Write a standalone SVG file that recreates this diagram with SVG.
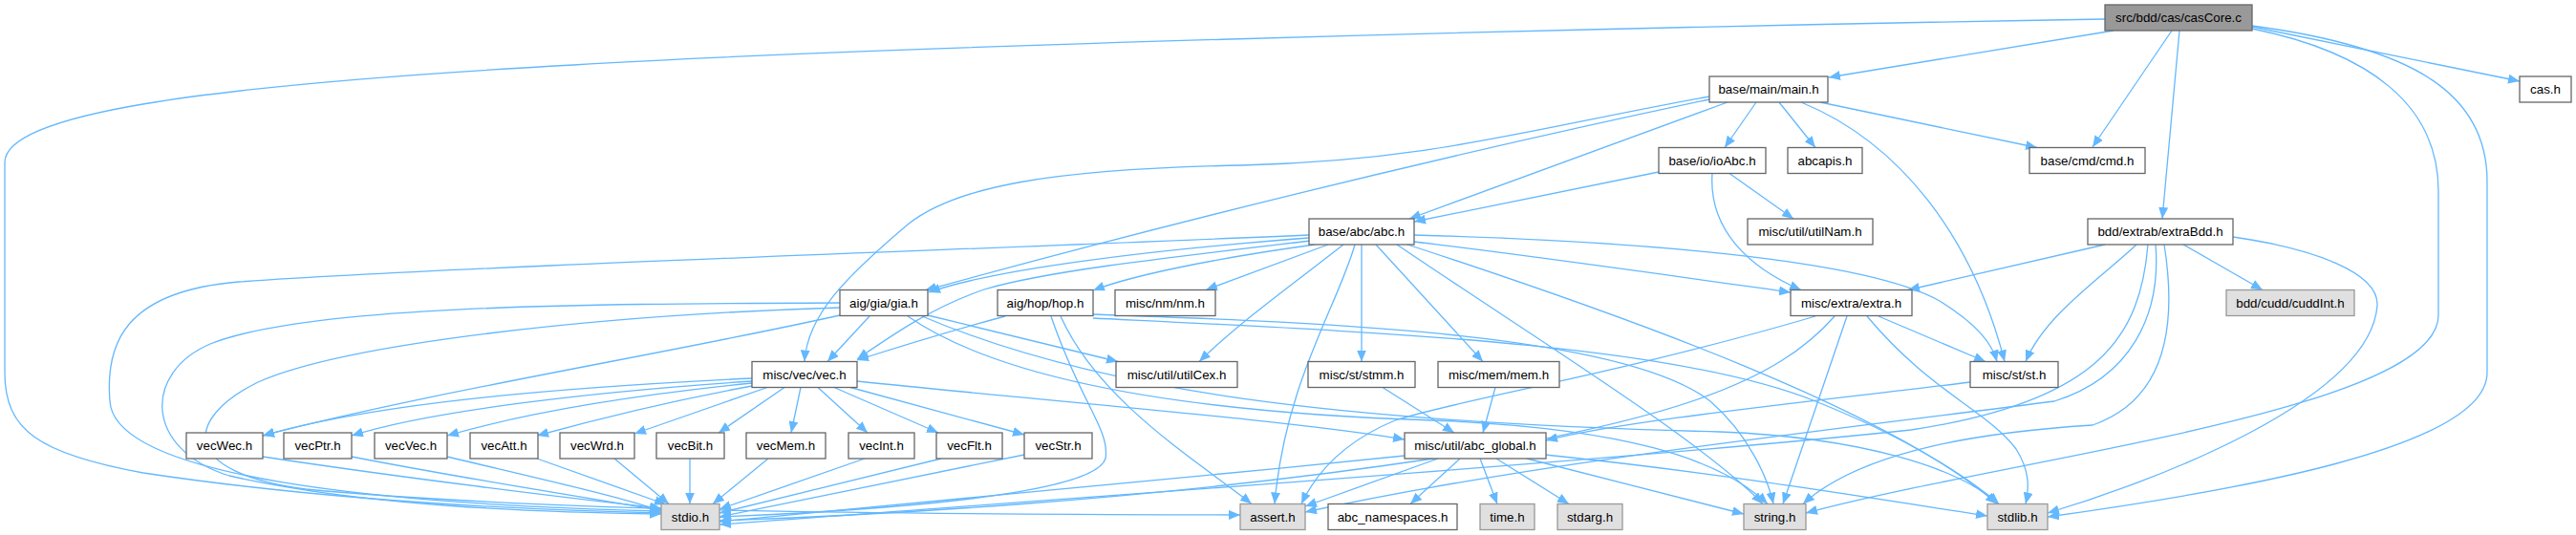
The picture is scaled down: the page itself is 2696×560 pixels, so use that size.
<svg xmlns="http://www.w3.org/2000/svg" width="2696" height="560" viewBox="0 0 2696 560">
<style>
.e{fill:none;stroke:#63b8ff;stroke-width:1.3;marker-end:url(#a)}
.n rect{fill:#fff;stroke:#666;stroke-width:1.3}
.g rect{fill:#e0e0e0;stroke:#999;stroke-width:1.3}
.m rect{fill:#999;stroke:#666;stroke-width:1.3}
text{font-family:"Liberation Sans",Arial,sans-serif;font-size:13.33px;fill:#000;text-anchor:middle}
</style>
<defs>
<marker id="a" viewBox="0 0 12 10" refX="12" refY="5" markerWidth="12" markerHeight="10" markerUnits="userSpaceOnUse" orient="auto">
<path d="M0,0 L12,5 L0,10 z" fill="#63b8ff"/>
</marker>
</defs>
<rect width="2696" height="560" fill="#fff"/>
<g id="edges">
<path class="e" d="M2203,20 C1600,30 900,50 600,68 C200,90 5,120 5,170 L5,390 C5,450 40,475 150,495 C350,525 560,534 692,537"/>
<path class="e" d="M2212,32 L1914,81"/>
<path class="e" d="M2273,32 L2190,154"/>
<path class="e" d="M2281,32 L2263,229"/>
<path class="e" d="M2357,28 L2637,85"/>
<path class="e" d="M2357,30 C2480,55 2552,110 2552,200 L2552,330 C2552,430 2100,480 1890,537"/>
<path class="e" d="M2357,27 C2530,50 2603,100 2603,190 L2603,390 C2603,470 2330,515 2143,541"/>
<path class="e" d="M1808,107 L1475,229"/>
<path class="e" d="M1789,104 C1500,165 1200,240 968,304"/>
<path class="e" d="M1789,101 C1600,135 1500,168 1300,173 C1100,177 1000,195 950,235 C885,290 845,330 842,378.5"/>
<path class="e" d="M1838,107 L1805,154.5"/>
<path class="e" d="M1862,107 L1900,154.5"/>
<path class="e" d="M1905,107 L2132,154.5"/>
<path class="e" d="M1885,107 C1990,150 2065,250 2098,378.5"/>
<path class="e" d="M1736,180 L1480,232"/>
<path class="e" d="M1810,181.5 L1877,229"/>
<path class="e" d="M1792,181.5 C1788,240 1830,280 1885,303.5"/>
<path class="e" d="M1370,246 C1000,262 500,278 250,295 C130,305 110,360 115,420 C120,500 400,528 692,535"/>
<path class="e" d="M1370,249 C1200,262 1040,282 972,306"/>
<path class="e" d="M1376,256 C1260,272 1180,290 1144,304"/>
<path class="e" d="M1372,252 C1200,272 1090,285 1030,303 C975,322 935,350 897,376"/>
<path class="e" d="M1390,256 L1262,303.5"/>
<path class="e" d="M1406,256 C1350,300 1300,335 1255,378.5"/>
<path class="e" d="M1418,256 C1400,320 1345,400 1334,527.5"/>
<path class="e" d="M1425,256 L1425,378.5"/>
<path class="e" d="M1440,256 L1552,378.5"/>
<path class="e" d="M1462,256 C1600,350 1780,460 1845,527.5"/>
<path class="e" d="M1470,255 C1700,330 1980,430 2090,527.5"/>
<path class="e" d="M1480,246 C1700,252 1950,270 2030,315 C2070,340 2085,360 2090,378.5"/>
<path class="e" d="M1480,253 C1620,270 1760,290 1874,306"/>
<path class="e" d="M910,331 L866,378.5"/>
<path class="e" d="M879,330 C700,370 450,410 275,456"/>
<path class="e" d="M879,317 C600,318 320,320 220,360 C150,390 150,470 240,498 C380,530 560,536 692,538"/>
<path class="e" d="M879,322 C620,330 360,360 270,400 C190,440 190,495 320,512 C600,538 1000,538 1298,539"/>
<path class="e" d="M971,330 L1170,378.5"/>
<path class="e" d="M950,331 C1050,400 1250,432 1500,440 C1700,448 1800,480 1850,527.5"/>
<path class="e" d="M965,331 C1150,410 1400,442 1800,452 C1950,458 2050,490 2092,527.5"/>
<path class="e" d="M1052,331 C1000,345 950,360 897,377"/>
<path class="e" d="M1110,331 C1150,420 1250,480 1310,527.5"/>
<path class="e" d="M1100,331 C1130,420 1162,450 1157,480 C1145,520 900,535 753,541"/>
<path class="e" d="M1144,329 C1400,338 1700,350 1790,420 C1830,455 1850,500 1856,527.5"/>
<path class="e" d="M1144,333 C1450,348 1750,360 1900,420 C2000,460 2060,500 2092,527.5"/>
<path class="e" d="M1966,331 L2078,378.5"/>
<path class="e" d="M1933,331 L1866,527.5"/>
<path class="e" d="M1954,331 C2020,410 2080,430 2110,470 C2124,492 2124,510 2120,527.5"/>
<path class="e" d="M1900,331 C1700,390 1520,420 1460,440 C1400,465 1375,500 1362,527.5"/>
<path class="e" d="M1920,331 C1860,400 1750,440 1500,480 C1200,525 900,540 753,545"/>
<path class="e" d="M2203,256 L1997,303.5"/>
<path class="e" d="M2285,256 L2368,303.5"/>
<path class="e" d="M2236,256 C2200,290 2140,330 2120,378.5"/>
<path class="e" d="M2337,248 C2420,260 2490,285 2488,320 C2480,420 2250,505 2143,537"/>
<path class="e" d="M2265,256 C2280,350 2262,420 2190,445 C2080,452 1950,470 1887,527.5"/>
<path class="e" d="M2256,256 C2262,330 2230,395 2150,420 C1900,452 1600,485 1366,536"/>
<path class="e" d="M2248,256 C2240,350 2200,420 2000,450 C1700,482 1000,530 753,549"/>
<path class="e" d="M787,396 C600,405 400,420 275,456"/>
<path class="e" d="M787,399 C620,410 450,430 368,456"/>
<path class="e" d="M787,401 C650,415 540,435 468,456"/>
<path class="e" d="M787,404 C700,420 620,440 562,456"/>
<path class="e" d="M803,405.5 L664,454"/>
<path class="e" d="M821,405.5 L752,453"/>
<path class="e" d="M838,405.5 L828,453"/>
<path class="e" d="M856,405.5 L908,453"/>
<path class="e" d="M873,405.5 L982,453"/>
<path class="e" d="M890,405.5 L1072,455"/>
<path class="e" d="M897,399 C1100,420 1350,440 1470,460"/>
<path class="e" d="M275,478 C420,500 600,522 692,532"/>
<path class="e" d="M368,478 C480,500 620,522 692,534"/>
<path class="e" d="M468,478 C560,500 650,520 692,535"/>
<path class="e" d="M562,480 L697,528"/>
<path class="e" d="M643,480 L700,527.5"/>
<path class="e" d="M722,480 L722,527.5"/>
<path class="e" d="M804,480 L746,527.5"/>
<path class="e" d="M905,480 L753,533"/>
<path class="e" d="M985,480 L753,537"/>
<path class="e" d="M1072,476 L753,541"/>
<path class="e" d="M1505,480 L1366,530"/>
<path class="e" d="M1528,480 L1476,527.5"/>
<path class="e" d="M1549,480 L1567,527.5"/>
<path class="e" d="M1566,480 L1642,527.5"/>
<path class="e" d="M1470,477 C1200,505 900,530 753,546"/>
<path class="e" d="M1598,480 L1825,538"/>
<path class="e" d="M1617,476 C1800,495 1950,520 2080,540"/>
<path class="e" d="M2062,400 C1900,420 1700,440 1618,461"/>
<path class="e" d="M1447,405.5 L1522,453"/>
<path class="e" d="M1565,405.5 L1552,453"/>
</g>
<g id="casCore" class="m"><rect x="2203" y="5" width="154" height="27"/><text x="2280" y="23.2">src/bdd/cas/casCore.c</text></g>
<g id="main_h" class="n"><rect x="1789" y="80" width="124" height="27"/><text x="1851" y="98.2">base/main/main.h</text></g>
<g id="cas_h" class="n"><rect x="2637" y="80" width="54" height="27"/><text x="2664" y="98.2">cas.h</text></g>
<g id="ioAbc_h" class="n"><rect x="1736" y="154.5" width="112" height="27"/><text x="1792" y="172.7">base/io/ioAbc.h</text></g>
<g id="abcapis_h" class="n"><rect x="1871" y="154.5" width="78" height="27"/><text x="1910" y="172.7">abcapis.h</text></g>
<g id="cmd_h" class="n"><rect x="2124" y="154.5" width="121" height="27"/><text x="2184.5" y="172.7">base/cmd/cmd.h</text></g>
<g id="abc_h" class="n"><rect x="1370" y="229" width="110" height="27"/><text x="1425" y="247.2">base/abc/abc.h</text></g>
<g id="utilNam_h" class="n"><rect x="1829" y="229" width="131" height="27"/><text x="1894.5" y="247.2">misc/util/utilNam.h</text></g>
<g id="extraBdd_h" class="n"><rect x="2185" y="229" width="152" height="27"/><text x="2261" y="247.2">bdd/extrab/extraBdd.h</text></g>
<g id="gia_h" class="n"><rect x="879" y="303.5" width="92" height="27"/><text x="925" y="321.7">aig/gia/gia.h</text></g>
<g id="hop_h" class="n"><rect x="1044" y="303.5" width="100" height="27"/><text x="1094" y="321.7">aig/hop/hop.h</text></g>
<g id="nm_h" class="n"><rect x="1167" y="303.5" width="105" height="27"/><text x="1219.5" y="321.7">misc/nm/nm.h</text></g>
<g id="extra_h" class="n"><rect x="1874" y="303.5" width="127" height="27"/><text x="1937.5" y="321.7">misc/extra/extra.h</text></g>
<g id="cuddInt_h" class="g"><rect x="2330" y="303.5" width="134" height="27"/><text x="2397" y="321.7">bdd/cudd/cuddInt.h</text></g>
<g id="vec_h" class="n"><rect x="787" y="378.5" width="110" height="27"/><text x="842" y="396.7">misc/vec/vec.h</text></g>
<g id="utilCex_h" class="n"><rect x="1168" y="378.5" width="127" height="27"/><text x="1231.5" y="396.7">misc/util/utilCex.h</text></g>
<g id="stmm_h" class="n"><rect x="1369" y="378.5" width="112" height="27"/><text x="1425" y="396.7">misc/st/stmm.h</text></g>
<g id="mem_h" class="n"><rect x="1505" y="378.5" width="127" height="27"/><text x="1568.5" y="396.7">misc/mem/mem.h</text></g>
<g id="st_h" class="n"><rect x="2062" y="378.5" width="92" height="27"/><text x="2108" y="396.7">misc/st/st.h</text></g>
<g id="vecWec_h" class="n"><rect x="195" y="453" width="80" height="27"/><text x="235" y="471.2">vecWec.h</text></g>
<g id="vecPtr_h" class="n"><rect x="297" y="453" width="71" height="27"/><text x="332.5" y="471.2">vecPtr.h</text></g>
<g id="vecVec_h" class="n"><rect x="392" y="453" width="76" height="27"/><text x="430" y="471.2">vecVec.h</text></g>
<g id="vecAtt_h" class="n"><rect x="492" y="453" width="71" height="27"/><text x="527.5" y="471.2">vecAtt.h</text></g>
<g id="vecWrd_h" class="n"><rect x="586" y="453" width="78" height="27"/><text x="625" y="471.2">vecWrd.h</text></g>
<g id="vecBit_h" class="n"><rect x="687" y="453" width="71" height="27"/><text x="722.5" y="471.2">vecBit.h</text></g>
<g id="vecMem_h" class="n"><rect x="781" y="453" width="83" height="27"/><text x="822.5" y="471.2">vecMem.h</text></g>
<g id="vecInt_h" class="n"><rect x="888" y="453" width="69" height="27"/><text x="922.5" y="471.2">vecInt.h</text></g>
<g id="vecFlt_h" class="n"><rect x="980" y="453" width="69" height="27"/><text x="1014.5" y="471.2">vecFlt.h</text></g>
<g id="vecStr_h" class="n"><rect x="1072" y="453" width="71" height="27"/><text x="1107.5" y="471.2">vecStr.h</text></g>
<g id="abc_global_h" class="n"><rect x="1470" y="453" width="148" height="27"/><text x="1544" y="471.2">misc/util/abc_global.h</text></g>
<g id="stdio_h" class="g"><rect x="692" y="527.5" width="61" height="27"/><text x="722.5" y="545.7">stdio.h</text></g>
<g id="assert_h" class="g"><rect x="1298" y="527.5" width="68" height="27"/><text x="1332" y="545.7">assert.h</text></g>
<g id="abc_namespaces_h" class="n"><rect x="1390" y="527.5" width="135" height="27"/><text x="1457.5" y="545.7">abc_namespaces.h</text></g>
<g id="time_h" class="g"><rect x="1549" y="527.5" width="57" height="27"/><text x="1577.5" y="545.7">time.h</text></g>
<g id="stdarg_h" class="g"><rect x="1630" y="527.5" width="68" height="27"/><text x="1664" y="545.7">stdarg.h</text></g>
<g id="string_h" class="g"><rect x="1825" y="527.5" width="65" height="27"/><text x="1857.5" y="545.7">string.h</text></g>
<g id="stdlib_h" class="g"><rect x="2080" y="527.5" width="63" height="27"/><text x="2111.5" y="545.7">stdlib.h</text></g>
</svg>
